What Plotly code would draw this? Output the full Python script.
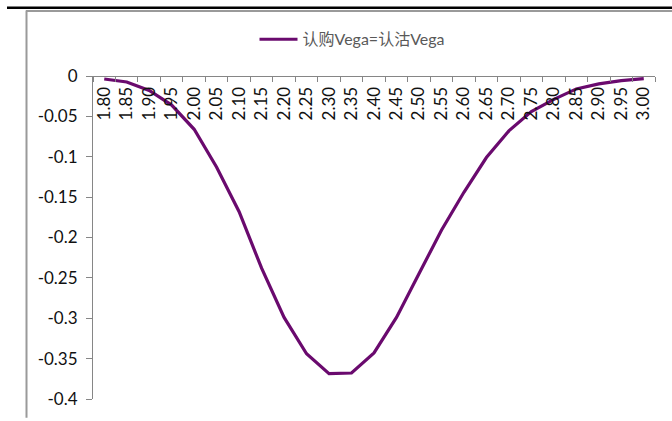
import plotly.graph_objects as go

strikes = ["1.80", "1.85", "1.90", "1.95", "2.00", "2.05", "2.10", "2.15", "2.20", "2.25",
           "2.30", "2.35", "2.40", "2.45", "2.50", "2.55", "2.60", "2.65", "2.70", "2.75",
           "2.80", "2.85", "2.90", "2.95", "3.00"]
vega = [-0.0037, -0.0074, -0.018, -0.036, -0.066, -0.113, -0.168, -0.238, -0.299, -0.344,
        -0.3686, -0.3678, -0.343, -0.299, -0.245, -0.191, -0.144, -0.101, -0.068, -0.044,
        -0.029, -0.016, -0.0098, -0.0057, -0.0033]
series_name = "认购Vega=认沽Vega"
y_tickvals = [0, -0.05, -0.1, -0.15, -0.2, -0.25, -0.3, -0.35, -0.4]
y_ticktext = ["0", "-0.05", "-0.1", "-0.15", "-0.2", "-0.25", "-0.3", "-0.35", "-0.4"]

W, H = 672, 421
L, R, T, B = 93, 17, 76, 19
pw, ph = W - L - R, H - T - B

def px(x):
    return (x - L) / pw

def py(y):
    return (H - B - y) / ph

font_fam = "Lato, Noto Sans CJK SC, sans-serif"

fig = go.Figure()
fig.add_trace(go.Scatter(
    x=strikes, y=vega, mode="lines", name=series_name,
    line=dict(color="#6A0A6E", width=3.2),
))

fig.update_layout(
    width=W, height=H,
    margin=dict(l=L, r=R, t=T, b=B),
    paper_bgcolor="white", plot_bgcolor="white",
    showlegend=True,
    legend=dict(x=px(352), xanchor="center", y=py(39), yanchor="middle",
                orientation="h", itemwidth=38,
                font=dict(family=font_fam, size=16, color="#595959"),
                bgcolor="rgba(0,0,0,0)"),
    xaxis=dict(type="category", side="bottom", anchor="free", position=1,
               tickangle=-90, tickson="boundaries", ticks="outside", ticklen=5,
               tickcolor="#868686", showline=True, linecolor="#868686", linewidth=1,
               showgrid=False, zeroline=False, ticklabelstandoff=3,
               tickfont=dict(family=font_fam, size=17, color="#111111"),
               range=[-0.5, len(strikes) - 0.5], fixedrange=True),
    yaxis=dict(range=[-0.4, 0], tickvals=y_tickvals, ticktext=y_ticktext,
               ticks="outside", ticklen=6, tickcolor="#868686",
               showline=True, linecolor="#868686", linewidth=1,
               showgrid=False, zeroline=False, ticklabelstandoff=5,
               tickfont=dict(family=font_fam, size=17, color="#111111")),
    shapes=[
        dict(type="line", xref="paper", yref="paper", x0=px(7), x1=px(672), y0=py(7), y1=py(7),
             line=dict(color="black", width=2.5)),
        dict(type="line", xref="paper", yref="paper", x0=px(26), x1=px(672), y0=py(10.5), y1=py(10.5),
             line=dict(color="#9A9A9A", width=2)),
        dict(type="line", xref="paper", yref="paper", x0=px(26.5), x1=px(26.5), y0=py(10), y1=py(421),
             line=dict(color="#9A9A9A", width=2)),
    ],
)

fig.write_html("out.html")
